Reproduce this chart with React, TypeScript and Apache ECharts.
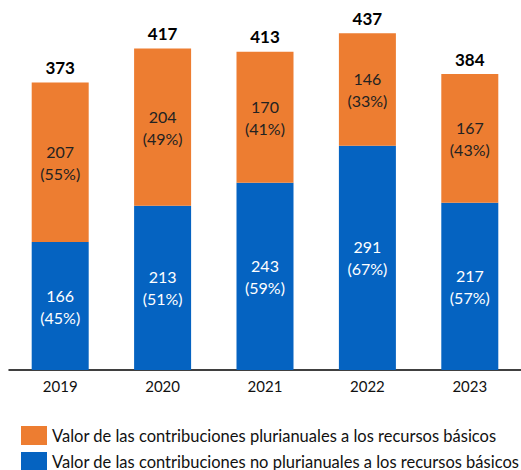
import React, { useEffect, useRef } from "react";
import * as echarts from "echarts";

const years = ["2019", "2020", "2021", "2022", "2023"];
const nonMultiYear = [166, 213, 243, 291, 217];
const nonMultiYearPct = [45, 51, 59, 67, 57];
const multiYear = [207, 204, 170, 146, 167];
const multiYearPct = [55, 49, 41, 33, 43];
const totals = [373, 417, 413, 437, 384];
const seriesNames = [
  "Valor de las contribuciones plurianuales a los recursos básicos",
  "Valor de las contribuciones no plurianuales a los recursos básicos",
];

const FONT = "Lato, 'Noto Sans', sans-serif";

export default function App() {
  const ref = useRef<HTMLDivElement>(null);
  useEffect(() => {
    document.body.style.margin = "0";
    const chart = echarts.init(ref.current!, null, { renderer: "svg" });
    const legendBase = {
      orient: "horizontal",
      left: 16,
      itemWidth: 26,
      itemHeight: 19,
      itemGap: 6,
      icon: "rect",
      textStyle: { fontFamily: FONT, fontSize: 16.5, color: "#111" },
    };
    chart.setOption({
      animation: false,
      textStyle: { fontFamily: FONT },
      grid: { left: 9, top: 0, width: 516, height: 370, containLabel: false },
      legend: [
        { ...legendBase, top: 421, data: [seriesNames[0]] },
        { ...legendBase, top: 447, data: [seriesNames[1]] },
      ],
      xAxis: {
        type: "category",
        data: years,
        axisLine: { lineStyle: { color: "#000", width: 1.5 } },
        axisTick: { show: false },
        axisLabel: { color: "#111", fontSize: 15, margin: 8, fontFamily: FONT },
      },
      yAxis: {
        type: "value",
        min: 0,
        max: 480,
        show: false,
        splitLine: { show: false },
      },
      series: [
        {
          name: seriesNames[1],
          type: "bar",
          stack: "a",
          barWidth: 57,
          data: nonMultiYear,
          itemStyle: { color: "#0563C1" },
          label: {
            show: true,
            position: "inside",
            color: "#fff",
            fontSize: 16,
            lineHeight: 22,
            fontFamily: FONT,
            formatter: (p: any) => `${p.value}\n(${nonMultiYearPct[p.dataIndex]}%)`,
          },
        },
        {
          name: seriesNames[0],
          type: "bar",
          stack: "a",
          barWidth: 57,
          data: multiYear,
          itemStyle: { color: "#ED7D31" },
          label: {
            show: true,
            position: "inside",
            color: "#222",
            fontSize: 16,
            lineHeight: 22,
            fontFamily: FONT,
            formatter: (p: any) => `${p.value}\n(${multiYearPct[p.dataIndex]}%)`,
          },
        },
        {
          name: "total",
          type: "scatter",
          data: totals,
          symbol: "circle",
          symbolSize: 1,
          itemStyle: { color: "rgba(0,0,0,0)" },
          silent: true,
          label: {
            show: true,
            position: "top",
            distance: 6,
            color: "#000",
            opacity: 1,
            fontWeight: "bold",
            fontSize: 17,
            fontFamily: FONT,
          },
        },
      ],
    });
    return () => chart.dispose();
  }, []);
  return (
    <div
      ref={ref}
      style={{ position: "absolute", left: 0, top: 0, width: 521, height: 470 }}
    />
  );
}
